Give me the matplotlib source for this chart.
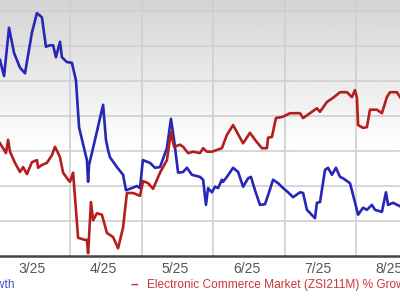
import numpy as np
import matplotlib.pyplot as plt

plt.rcParams['font.family'] = ['Liberation Sans', 'DejaVu Sans']

# days since the left edge of the crop, % growth
days_blue = [0, 1.7, 3.8, 5.9, 8.4, 10.5, 13.4, 15.5, 17.6, 19.3, 21, 22.3, 23.5, 25.2, 26,
             28.1, 30.2, 31.9, 33.2, 35.3, 36.5, 37, 37.4, 39.9, 43.3, 44.5, 45.4, 46.2, 49.1,
             51.7, 52.9, 55.4, 57.5, 58.8, 60, 63, 65.1, 67.2, 70.1, 71.8, 73.1, 74.8, 76.9,
             78.5, 80.6, 84, 85.3, 86.5, 87.4, 89, 90.3, 91.6, 93.2, 93.7, 95.3, 97.9, 100,
             102.1, 104.2, 105.4, 107.1, 109.2, 111.3, 112.6, 114.7, 116.8, 118.9, 121, 123.1,
             126, 127.3, 128.9, 132.3, 133.1, 134.4, 136.5, 137.8, 139.4, 141.1, 142.8, 144.1,
             147, 148.3, 150.4, 152.5, 154.1, 156.2, 157.5, 160.4, 162.1, 163, 165.1, 168]
growth_blue = [28.0, 25.7, 32.6, 29.0, 26.9, 26.1, 31.9, 34.7, 34.1, 29.9, 30.1, 30.1, 28.4,
               30.6, 28.4, 27.7, 27.6, 25.1, 18.4, 15.4, 13.7, 10.6, 13.0, 16.6, 21.6, 16.6,
               15.1, 14.1, 12.7, 11.6, 9.4, 9.7, 10.0, 9.7, 13.7, 13.3, 12.6, 12.7, 15.4, 19.6,
               16.6, 11.9, 12.0, 12.6, 11.6, 11.3, 10.9, 7.3, 9.7, 9.1, 9.9, 9.7, 10.9, 10.6,
               11.3, 12.6, 12.0, 9.9, 11.1, 11.3, 9.4, 7.3, 7.4, 8.7, 10.9, 10.4, 9.7, 9.1, 8.4,
               9.1, 9.0, 6.6, 5.4, 7.6, 7.7, 12.3, 12.6, 11.6, 12.6, 11.3, 11.1, 10.4, 8.7, 5.9,
               6.9, 6.6, 7.3, 6.6, 6.3, 9.1, 7.3, 7.6, 7.1]

days_red = [0, 1.3, 2.5, 3.4, 4.2, 6.3, 8.4, 9.7, 11.3, 13.4, 15.5, 16, 17.6, 19.7, 21.8, 23.1,
            24.4, 25.2, 26.5, 28.6, 29.4, 30.7, 32.8, 35.7, 36.5, 37, 38.2, 39.1, 40.7, 42.8,
            44.9, 47.5, 49.6, 51.7, 53.3, 55.9, 58.8, 60.1, 62.2, 64.3, 67.2, 70.1, 71.8, 73.1,
            75.6, 76.9, 79, 81.1, 84, 85.3, 86.9, 89, 93.2, 95.3, 97.9, 100.8, 102.1, 105,
            107.1, 110, 112.1, 112.6, 114.2, 115.9, 118.9, 121.8, 126, 127.3, 130.2, 133.1,
            134.4, 137.3, 139.9, 142.8, 145.7, 147.8, 149.1, 149.9, 150.4, 152.5, 154.1, 155.4,
            158.3, 160.4, 162.5, 163.8, 166.7, 168]
growth_red = [16.1, 15.4, 14.7, 16.6, 14.9, 13.3, 12.0, 12.7, 11.7, 13.4, 13.7, 12.6, 13.0,
              13.3, 14.4, 15.6, 14.7, 14.1, 11.9, 10.9, 10.6, 11.9, 2.6, 2.3, 2.3, 0.4, 7.7,
              5.1, 6.1, 5.9, 3.3, 2.7, 1.1, 4.1, 9.0, 9.0, 8.6, 10.7, 10.4, 9.6, 11.9, 13.7,
              17.7, 15.6, 15.9, 15.6, 14.7, 14.9, 14.7, 15.4, 14.9, 14.9, 15.4, 17.3, 18.7,
              16.9, 16.1, 17.6, 16.6, 15.4, 15.4, 16.9, 17.0, 19.7, 19.9, 20.4, 20.4, 19.7,
              20.4, 21.1, 20.6, 22.0, 22.6, 23.4, 23.4, 22.7, 23.7, 22.6, 18.7, 18.3, 18.4,
              20.9, 20.9, 20.4, 22.7, 23.4, 23.4, 22.7]

grid_days = [29.5, 59.5, 89.5, 119.5, 149.5]
label_days = [13.5, 43.5, 73.5, 103.5, 133.5, 163.5]
month_labels = ['3/25', '4/25', '5/25', '6/25', '7/25', '8/25']

fig = plt.figure(figsize=(4, 3), dpi=100)
ax = fig.add_axes([0, 44 / 300, 1, 256 / 300])
x0, x1, y0, y1 = 0, 168, 0, 36.57
ax.set_xlim(x0, x1)
ax.set_ylim(y0, y1)

# grey-to-white background fade
ys = np.linspace(y1, y0, 300)
shade = np.where(ys > 15, 1 - 0.17 * (ys - 15) / (y1 - 15), 1.0)
ax.imshow(shade[:, None], cmap='gray', vmin=0, vmax=1, aspect='auto',
          extent=[x0, x1, y0, y1], zorder=0)

ax.set_yticks(np.arange(5, 36, 5))
ax.set_yticklabels([])
ax.set_xticks(grid_days, minor=True)
ax.set_xticks(label_days)
ax.set_xticklabels(month_labels, fontsize=10, color='#555555')
ax.tick_params(axis='both', which='both', length=0)
ax.tick_params(axis='x', pad=4)
ax.grid(axis='y', which='major', color='#cfcfcf', lw=1.2)
ax.grid(axis='x', which='minor', color='#cfcfcf', lw=1.2)
ax.set_axisbelow(True)
for s in ['top', 'left', 'right']:
    ax.spines[s].set_visible(False)
ax.spines['bottom'].set_color('#444444')
ax.spines['bottom'].set_linewidth(1.8)

ax.plot(days_blue, growth_blue, color='#2626b8', lw=1.9, zorder=3, solid_joinstyle='round')
ax.plot(days_red, growth_red, color='#b41e1e', lw=1.9, zorder=3, solid_joinstyle='round')

fig.text(14 / 400, 1 - 285 / 300, 'Price % Growth', color='#4848c8', fontsize=8.6,
         ha='right', va='center')
fig.text(131 / 400, 1 - 285 / 300, '\u2013', color='#c83838', fontsize=10,
         ha='left', va='center', fontweight='bold')
fig.text(147 / 400, 1 - 285 / 300, 'Electronic Commerce Market (ZSI211M) % Growth',
         color='#c83838', fontsize=8.6, ha='left', va='center')

fig.savefig('out.png', dpi=100)
